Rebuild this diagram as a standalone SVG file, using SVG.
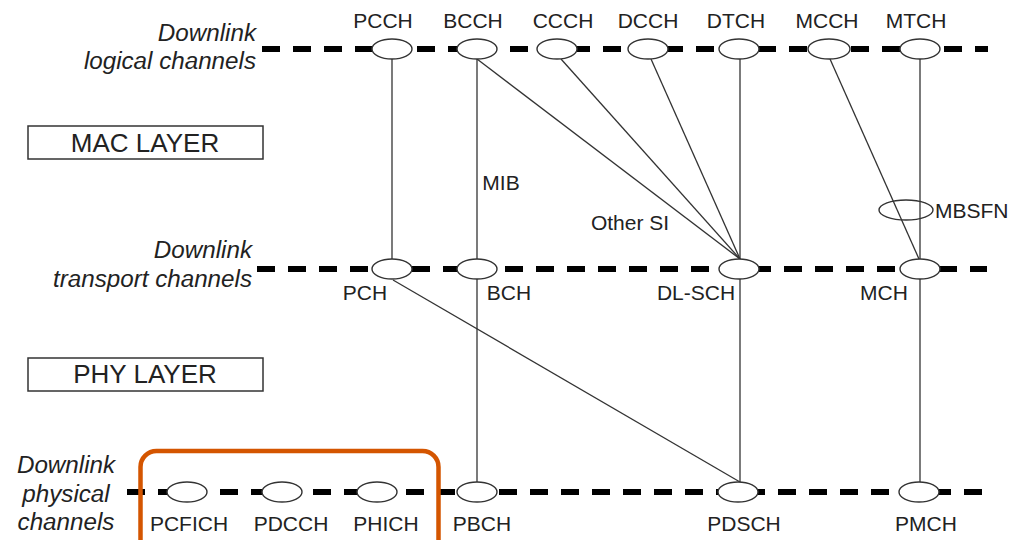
<svg xmlns="http://www.w3.org/2000/svg" width="1023" height="540" viewBox="0 0 1023 540">
<style>
.bus{stroke:#000;stroke-width:6;stroke-dasharray:18 13;fill:none}
.ch{fill:#fff;stroke:#333;stroke-width:1.4}
.con{stroke:#333;stroke-width:1.3;fill:none}
.lbl{font-family:"Liberation Sans",Arial,sans-serif;font-size:21px;fill:#222;text-anchor:middle}
.lbs{font-family:"Liberation Sans",Arial,sans-serif;font-size:21px;fill:#222;text-anchor:start}
.it{font-family:"Liberation Sans",Arial,sans-serif;font-size:24.2px;font-style:italic;fill:#222}
.layer{font-family:"Liberation Sans",Arial,sans-serif;font-size:26px;fill:#222;text-anchor:middle}
.box{fill:#fff;stroke:#333;stroke-width:1.5}
</style>
<rect width="1023" height="540" fill="#fff"/>
<g id="buses">
<line class="bus" x1="262" y1="49" x2="988" y2="49"/>
<line class="bus" x1="257" y1="269" x2="987" y2="269"/>
<line class="bus" x1="127" y1="492" x2="983" y2="492"/>
</g>
<g id="side-labels">
<text class="it" x="256" y="41" text-anchor="end">Downlink</text>
<text class="it" x="256" y="69" text-anchor="end">logical channels</text>
<text class="it" x="252" y="258" text-anchor="end">Downlink</text>
<text class="it" x="252" y="287" text-anchor="end">transport channels</text>
<text class="it" x="66" y="473" text-anchor="middle">Downlink</text>
<text class="it" x="66" y="502" text-anchor="middle">physical</text>
<text class="it" x="66" y="530" text-anchor="middle">channels</text>
</g>
<g id="mac-layer">
<rect class="box" x="28" y="126" width="235" height="33"/>
<text class="layer" x="145" y="152">MAC LAYER</text>
</g>
<g id="phy-layer">
<rect class="box" x="28" y="358" width="235" height="33"/>
<text class="layer" x="145" y="383">PHY LAYER</text>
</g>
<g id="connectors">
<line class="con" x1="392" y1="59" x2="392" y2="259"/>
<line class="con" x1="477" y1="59" x2="477" y2="259"/>
<line class="con" x1="477" y1="59" x2="740" y2="259"/>
<line class="con" x1="561" y1="59" x2="740" y2="259"/>
<line class="con" x1="651" y1="59" x2="740" y2="259"/>
<line class="con" x1="740" y1="59" x2="740" y2="259"/>
<line class="con" x1="830" y1="59" x2="919" y2="259"/>
<line class="con" x1="920" y1="59" x2="920" y2="259"/>
<line class="con" x1="393" y1="280" x2="740" y2="482"/>
<line class="con" x1="477" y1="279" x2="477" y2="482"/>
<line class="con" x1="740" y1="279" x2="740" y2="482"/>
<line class="con" x1="920" y1="279" x2="920" y2="482"/>
<text class="lbl" x="501" y="190">MIB</text>
<text class="lbl" x="630" y="230">Other SI</text>
</g>
<g id="PCCH"><ellipse class="ch" cx="392" cy="49" rx="20" ry="10"/><text class="lbl" x="383" y="28">PCCH</text></g>
<g id="BCCH"><ellipse class="ch" cx="477" cy="49" rx="20" ry="10"/><text class="lbl" x="473" y="28">BCCH</text></g>
<g id="CCCH"><ellipse class="ch" cx="557" cy="49" rx="20" ry="10"/><text class="lbl" x="563" y="28">CCCH</text></g>
<g id="DCCH"><ellipse class="ch" cx="648" cy="49" rx="20" ry="10"/><text class="lbl" x="648" y="28">DCCH</text></g>
<g id="DTCH"><ellipse class="ch" cx="739" cy="49" rx="20" ry="10"/><text class="lbl" x="736" y="28">DTCH</text></g>
<g id="MCCH"><ellipse class="ch" cx="829" cy="49" rx="21" ry="10"/><text class="lbl" x="827" y="28">MCCH</text></g>
<g id="MTCH"><ellipse class="ch" cx="920" cy="49" rx="20" ry="10"/><text class="lbl" x="916" y="28">MTCH</text></g>
<g id="MBSFN"><ellipse fill="none" stroke="#333" stroke-width="1.4" cx="906" cy="210" rx="27" ry="10"/><text class="lbs" x="935" y="218">MBSFN</text></g>
<g id="PCH"><ellipse class="ch" cx="392" cy="269" rx="20" ry="10"/><text class="lbl" x="365" y="300">PCH</text></g>
<g id="BCH"><ellipse class="ch" cx="477" cy="269" rx="20" ry="10"/><text class="lbl" x="509" y="300">BCH</text></g>
<g id="DL-SCH"><ellipse class="ch" cx="739" cy="269" rx="20" ry="10"/><text class="lbl" x="696" y="300">DL-SCH</text></g>
<g id="MCH"><ellipse class="ch" cx="920" cy="269" rx="20" ry="10"/><text class="lbl" x="884" y="300">MCH</text></g>
<g id="PCFICH"><ellipse class="ch" cx="187" cy="492" rx="20" ry="10"/><text class="lbl" x="189" y="531">PCFICH</text></g>
<g id="PDCCH"><ellipse class="ch" cx="282" cy="492" rx="20" ry="10"/><text class="lbl" x="291" y="531">PDCCH</text></g>
<g id="PHICH"><ellipse class="ch" cx="377" cy="492" rx="20" ry="10"/><text class="lbl" x="386" y="531">PHICH</text></g>
<g id="PBCH"><ellipse class="ch" cx="477" cy="492" rx="20" ry="10"/><text class="lbl" x="482" y="531">PBCH</text></g>
<g id="PDSCH"><ellipse class="ch" cx="738" cy="492" rx="20" ry="10"/><text class="lbl" x="744" y="531">PDSCH</text></g>
<g id="PMCH"><ellipse class="ch" cx="919" cy="492" rx="20" ry="10"/><text class="lbl" x="926" y="531">PMCH</text></g>
<g id="highlight">
<rect x="140.5" y="451" width="298" height="110" rx="16" fill="none" stroke="#D45500" stroke-width="4.5"/>
</g>
</svg>
